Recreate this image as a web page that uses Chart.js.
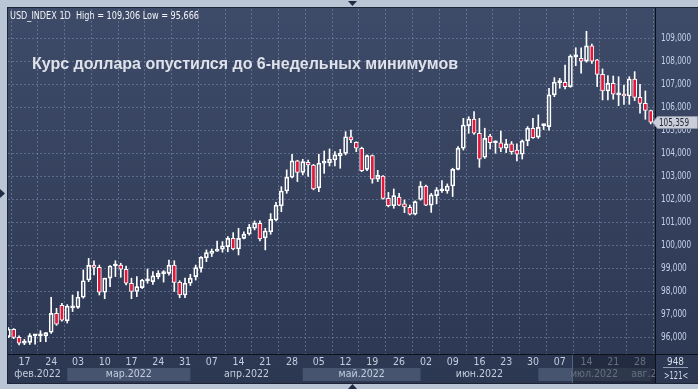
<!DOCTYPE html>
<html>
<head>
<meta charset="utf-8">
<script src="https://cdn.jsdelivr.net/npm/chart.js@4.4.1/dist/chart.umd.min.js"></script>
<style>
html,body{margin:0;padding:0;background:#bac6d6;overflow:hidden}
canvas{display:block}
</style>
</head>
<body>
<canvas id="chart" width="698" height="389"></canvas>
<script>
// USD_INDEX, daily bars, 14 Feb 2022 .. 1 Aug 2022 (121 bars)
const opens = [
96.03,96.35,96.00,95.74,95.78,96.06,96.06,96.06,96.22,97.04,
97.39,96.72,97.28,97.30,97.74,98.49,99.14,99.04,97.96,98.57,
99.10,99.14,98.96,98.35,97.99,98.16,98.45,98.42,98.64,98.77,
98.78,99.14,98.39,97.84,98.35,98.64,99.00,99.46,99.65,99.75,
99.83,99.94,100.30,99.84,100.30,100.49,100.74,100.96,100.33,100.59,
101.10,101.72,102.36,102.96,103.67,103.17,103.61,103.49,102.50,103.57,
103.59,103.71,103.90,104.00,104.72,104.48,104.22,103.30,103.90,102.88,
103.01,102.04,101.72,102.10,101.80,101.65,101.35,101.99,102.57,101.75,
102.16,102.37,102.36,102.58,103.30,104.22,105.20,105.49,104.87,103.83,
104.75,104.46,104.46,104.22,104.41,104.14,103.96,104.54,105.09,104.70,
105.20,105.16,106.54,107.07,107.09,106.90,108.19,108.13,108.01,108.67,
108.06,107.43,106.71,107.04,106.54,106.57,106.49,107.23,106.43,106.17,
105.86
];
const highs = [
96.42,96.38,96.06,95.91,96.16,96.13,96.29,96.20,97.74,97.26,
97.48,97.42,97.84,97.99,98.93,99.43,99.33,99.14,98.57,99.12,
99.33,99.22,99.10,98.57,98.64,98.52,98.97,98.86,98.90,98.90,
99.36,99.33,98.46,98.57,98.74,99.14,99.51,99.80,99.84,100.18,
100.16,100.38,100.55,100.74,100.59,100.91,101.06,101.06,100.74,101.38,
101.87,102.55,103.28,103.96,103.70,103.74,103.71,103.52,103.96,104.10,
104.19,104.07,104.17,104.94,105.01,104.50,104.27,103.93,103.93,103.26,
103.03,102.30,102.45,102.26,101.97,101.75,101.93,102.77,102.62,102.26,
102.51,102.81,102.67,103.35,104.29,105.52,105.59,105.81,105.52,105.09,
104.83,104.54,104.97,104.61,104.51,104.41,104.58,105.16,105.52,105.67,
105.26,106.83,107.29,107.26,107.84,108.28,108.59,108.59,109.306,108.75,
108.08,107.67,107.38,107.36,107.33,106.97,107.33,107.55,107.00,106.71,
105.88
];
const lows = [
95.98,95.94,95.666,95.68,95.69,95.70,95.81,95.81,96.17,96.52,
96.70,96.62,97.12,97.26,97.70,98.42,98.71,97.84,97.68,98.20,
98.64,98.61,98.28,97.68,97.77,98.12,98.35,98.30,98.54,98.40,
98.70,97.99,97.72,97.72,98.25,98.49,98.83,99.29,99.51,99.73,
99.70,99.72,99.80,99.58,100.28,100.44,100.67,100.19,99.80,100.48,
101.06,101.46,102.26,102.93,102.77,103.06,102.99,102.41,102.33,103.13,
103.45,103.45,103.35,103.93,104.46,104.07,103.20,103.25,102.70,102.77,
102.01,101.67,101.61,101.72,101.42,101.32,101.32,101.96,101.72,101.43,
101.80,102.30,102.26,102.12,103.28,104.14,104.87,104.82,103.39,103.78,
104.19,104.00,104.07,104.03,103.96,103.67,103.75,104.33,104.65,104.65,
105.03,105.01,106.46,106.83,106.80,106.87,107.81,107.48,107.96,107.91,
106.90,106.32,106.32,106.35,106.07,106.13,106.13,106.29,105.74,105.48,
105.28
];
const closes = [
96.35,96.00,95.74,95.84,96.07,96.08,96.08,96.20,97.04,96.57,
96.75,97.35,97.32,97.74,98.46,99.13,99.04,97.96,98.57,99.10,
99.12,98.96,98.35,97.99,98.20,98.49,98.47,98.67,98.78,98.80,
99.14,98.39,97.84,98.35,98.57,99.03,99.48,99.68,99.75,99.80,
99.97,100.30,99.84,100.30,100.48,100.78,100.96,100.28,100.62,101.13,
101.75,102.36,102.96,103.67,103.17,103.64,103.49,102.45,103.57,103.61,
103.74,103.93,104.00,104.72,104.58,104.22,103.25,103.90,102.88,103.04,
102.04,101.72,102.16,101.75,101.67,101.35,101.90,102.57,101.75,102.19,
102.41,102.39,102.58,103.30,104.22,105.23,105.49,104.87,103.75,104.65,
104.46,104.50,104.22,104.41,104.07,103.96,104.54,105.09,104.68,105.13,
105.24,106.54,107.09,107.10,106.90,108.23,108.21,108.01,108.67,108.01,
107.43,106.71,107.04,106.57,106.58,106.49,107.23,106.43,106.17,105.86,
105.359
];

// price axis
const yTicks = [96,97,98,99,100,101,102,103,104,105,106,107,108,109];
const yMin = 95.274, yMax = 110.274;

// date axis: day labels sit on every Thursday
const dayLabels = ["17","24","03","10","17","24","31","07","14","21","28","05",
                   "12","19","26","02","09","16","23","30","07","14","21","28"];
const monthNames = ["фев.2022","мар.2022","апр.2022","май.2022","июн.2022","июл.2022","авг.2022"];
const monthFirstDay = ["2022-02-01","2022-03-01","2022-04-01","2022-05-01","2022-06-01","2022-07-01","2022-08-01","2022-09-01"];

const title = "Курс доллара опустился до 6-недельных минимумов";
const header = "USD_INDEX 1D  High = 109,306 Low = 95,666";
const barCountText = "948";
const visibleText = ">121<";

// bar index of a date, counting weekdays from Mon 14 Feb 2022
const T0 = Date.UTC(2022,1,14);
function barIndex(iso){
  let d = Math.round((Date.parse(iso + "T00:00:00Z") - T0) / 86400000);
  let r = ((d % 7) + 7) % 7;
  if (r > 4) { d += 7 - r; r = 0; }
  return Math.floor(d / 7) * 5 + r;
}
const tickIdx = dayLabels.map((_, k) => barIndex("2022-02-17") + 5 * k);

const bodyLo = opens.map((o,i)=>Math.min(o,closes[i]));
const bodyHi = opens.map((o,i)=>Math.max(o,closes[i]));

const NARROW = "'Liberation Sans Narrow','Arial Narrow','DejaVu Sans Condensed',sans-serif";
const GRID = "rgba(125,142,175,0.55)";
const RED = "#e3173b";
const PLOT_R = 655, PLOT_B = 354, PANEL_L = 8, PANEL_T = 8, PANEL_B = 383;

function fmt(v){ return v.toFixed(3).replace(".", ","); }

// draw text squeezed to a given width (the terminal uses a narrow face)
function fitText(ctx, text, x, y, width){
  const w = ctx.measureText(text).width;
  ctx.save();
  ctx.translate(x, y);
  ctx.scale(width / w, 1);
  ctx.fillText(text, 0, 0);
  ctx.restore();
}

const decor = {
  id: "decor",
  beforeDraw(chart){
    const ctx = chart.ctx, W = chart.width, H = chart.height;
    ctx.save();
    ctx.fillStyle = "#bac6d6";
    ctx.fillRect(0,0,W,H);
    const g = ctx.createLinearGradient(0,PANEL_T,0,PANEL_B);
    g.addColorStop(0,"#3e4b68");
    g.addColorStop(1,"#2c3752");
    ctx.fillStyle = g;
    ctx.fillRect(PANEL_L,PANEL_T,W-PANEL_L,PANEL_B-PANEL_T);
    // month bands on the lower row of the date axis
    const xs = chart.scales.x;
    ctx.fillStyle = "#47546f";
    for (let m = 1; m < monthNames.length; m += 2) {
      const a = Math.max(PANEL_L, xs.getPixelForValue(barIndex(monthFirstDay[m])));
      const b = Math.min(PLOT_R, xs.getPixelForValue(barIndex(monthFirstDay[m+1])));
      if (b > a) ctx.fillRect(a, 368, b-a, 13);
    }
    ctx.restore();
  },
  afterDraw(chart){
    const ctx = chart.ctx, W = chart.width;
    const xs = chart.scales.x, ys = chart.scales.y;
    ctx.save();
    // price labels
    ctx.font = "10px " + NARROW;
    ctx.fillStyle = "#c6d2ea";
    ctx.textAlign = "left";
    ctx.textBaseline = "middle";
    ys.ticks.forEach(t => {
      const s = fmt(t.value);
      fitText(ctx, s, 661, ys.getPixelForValue(t.value) + 0.5, s.length * 4.3);
    });
    // month labels
    ctx.font = "10.5px " + NARROW;
    ctx.fillStyle = "#c3cddd";
    ctx.textAlign = "center";
    ctx.save();
    ctx.beginPath(); ctx.rect(PANEL_L,355,PLOT_R-PANEL_L,28); ctx.clip();
    for (let m = 0; m < monthNames.length; m++) {
      const a = Math.max(PANEL_L, xs.getPixelForValue(barIndex(monthFirstDay[m])));
      const b = Math.min(PLOT_R, xs.getPixelForValue(barIndex(monthFirstDay[m+1])));
      if (b > a) ctx.fillText(monthNames[m], (a+b)/2, 374.5);
    }
    ctx.restore();
    // highlighted tail of the date axis
    ctx.fillStyle = "rgba(26,32,50,0.55)";
    ctx.fillRect(572,355,PLOT_R-572,28);
    ctx.fillStyle = "#56627c";
    ctx.fillRect(572,355,1,28);
    // separators and frame
    ctx.fillStyle = "#0c1019";
    ctx.fillRect(PANEL_L, PLOT_B, W-PANEL_L, 1);
    ctx.fillRect(PLOT_R, PANEL_T, 1, PANEL_B-PANEL_T);
    ctx.strokeStyle = "#1d2436";
    ctx.lineWidth = 1;
    ctx.strokeRect(PANEL_L-0.5, PANEL_T-0.5, W-PANEL_L+1, PANEL_B-PANEL_T+1);
    // header
    ctx.textAlign = "left";
    ctx.textBaseline = "alphabetic";
    ctx.fillStyle = "#f2f4f8";
    ctx.font = "10.5px " + NARROW;
    fitText(ctx, header, 10, 19, 189);
    // title
    ctx.fillStyle = "#dfe2ea";
    ctx.font = "bold 16px 'Liberation Sans', Arial, sans-serif";
    fitText(ctx, title, 32, 68.5, 426);
    // last price tag
    const py = Math.round(ys.getPixelForValue(closes[closes.length-1]));
    ctx.fillStyle = "#c9ced8";
    ctx.strokeStyle = "#8d95a6";
    ctx.beginPath();
    ctx.moveTo(652.5, py+0.5);
    ctx.lineTo(657.5, py-5.5);
    ctx.lineTo(697.5, py-5.5);
    ctx.lineTo(697.5, py+6.5);
    ctx.lineTo(657.5, py+6.5);
    ctx.closePath();
    ctx.fill(); ctx.stroke();
    ctx.fillStyle = "#1b2335";
    ctx.font = "10px " + NARROW;
    ctx.textBaseline = "middle";
    fitText(ctx, fmt(closes[closes.length-1]), 659, py+1, 30);
    // bar counters
    ctx.fillStyle = "#d3dbe8";
    fitText(ctx, barCountText, 667, 362, 17);
    fitText(ctx, visibleText, 664, 376, 24);
    ctx.fillStyle = "#8d99b0";
    ctx.fillRect(663, 367, 25, 1);
    // small scroll markers
    ctx.fillStyle = "#1f2a44";
    ctx.beginPath(); ctx.moveTo(348,1); ctx.lineTo(357,1); ctx.lineTo(352.5,6); ctx.closePath(); ctx.fill();
    ctx.beginPath(); ctx.moveTo(348,389); ctx.lineTo(357,389); ctx.lineTo(352.5,384); ctx.closePath(); ctx.fill();
    ctx.beginPath(); ctx.moveTo(0,189); ctx.lineTo(5,193.5); ctx.lineTo(0,198); ctx.closePath(); ctx.fill();
    ctx.restore();
  }
};

new Chart(document.getElementById("chart"), {
  type: "bar",
  data: {
    datasets: [
      { label: "upper wick", data: highs.map((h,i)=>({x:i, y:[bodyHi[i], h]})),
        backgroundColor: "#ffffff", borderWidth: 0, barThickness: 1, grouped: false, order: 2 },
      { label: "lower wick", data: lows.map((l,i)=>({x:i, y:[l, bodyLo[i]]})),
        backgroundColor: "#ffffff", borderWidth: 0, barThickness: 1, grouped: false, order: 2 },
      { label: "body", data: bodyLo.map((lo,i)=>({x:i, y:[lo, bodyHi[i]]})),
        backgroundColor: closes.map((c,i)=> c < opens[i] ? RED : "rgba(0,0,0,0)"),
        borderColor: "#ffffff", borderWidth: 1, borderSkipped: false,
        barThickness: 4, minBarLength: 2, grouped: false, order: 1 }
    ]
  },
  options: {
    responsive: false,
    devicePixelRatio: 1,
    animation: false,
    layout: { padding: { left: PANEL_L, top: 9, right: 0, bottom: 6 } },
    plugins: { legend: { display: false }, tooltip: { enabled: false } },
    scales: {
      x: {
        type: "linear", min: -0.065, max: 120.8, offset: false,
        afterBuildTicks: s => { s.ticks = tickIdx.map(v => ({ value: v })); },
        afterFit: s => { s.height = 29; },
        grid: { color: GRID, drawTicks: false, lineWidth: 1 },
        border: { color: "#0c1019", width: 1, dash: [2,2] },
        ticks: { autoSkip: false, maxRotation: 0, color: "#c3cddd", padding: 2,
                 font: { family: NARROW, size: 10.5 },
                 callback: (v, i) => dayLabels[i] }
      },
      y: {
        position: "right", min: yMin, max: yMax,
        afterBuildTicks: s => { s.ticks = yTicks.map(v => ({ value: v })); },
        afterFit: s => { s.width = 43; },
        grid: { color: GRID, drawTicks: false, lineWidth: 1 },
        border: { color: "#0c1019", width: 1, dash: [2,2] },
        ticks: { display: false }
      }
    }
  },
  plugins: [decor]
});
</script>
</body>
</html>
